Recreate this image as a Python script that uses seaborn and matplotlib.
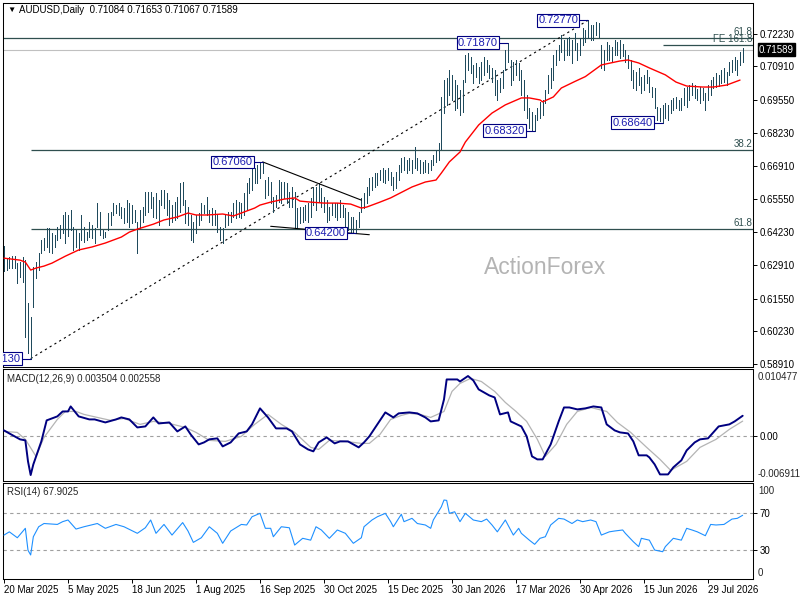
import numpy as np
import matplotlib
matplotlib.use("Agg")
import matplotlib.pyplot as plt
import matplotlib.transforms as mtrans
import seaborn as sns

# ---------------- data ----------------
symbol = "AUDUSD,Daily"
last_ohlc = [0.71084, 0.71653, 0.71067, 0.71589]
macd_last = [0.003504, 0.002558]
rsi_last = 67.9025

date_labels = ["20 Mar 2025", "5 May 2025", "18 Jun 2025", "1 Aug 2025", "16 Sep 2025",
               "30 Oct 2025", "15 Dec 2025", "30 Jan 2026", "17 Mar 2026", "30 Apr 2026",
               "15 Jun 2026", "29 Jul 2026"]
date_bars = [0, 24, 48, 72, 96, 120, 144, 168, 192, 216, 240, 264]

price_ticks = [0.72230, 0.70910, 0.69550, 0.68230, 0.66910, 0.65550,
               0.64230, 0.62910, 0.61550, 0.60230, 0.58910]

# daily highs / lows in pips (x 0.0001), one value per bar
high_pips = [
    6366, 6318, 6322, 6326, 6326, 6298, 6302, 6322, 6310, 6137, 6081, 6282, 6302, 6338, 6391,
    6399, 6439, 6439, 6419, 6411, 6443, 6451, 6492, 6504, 6492, 6512, 6443, 6431, 6419, 6492,
    6443, 6423, 6463, 6451, 6439, 6540, 6504, 6431, 6423, 6500, 6504, 6540, 6532, 6540, 6524,
    6520, 6552, 6540, 6532, 6512, 6463, 6512, 6524, 6585, 6585, 6585, 6565, 6581, 6553, 6593,
    6593, 6581, 6553, 6532, 6544, 6565, 6621, 6625, 6553, 6524, 6492, 6463, 6492, 6500, 6540,
    6532, 6565, 6512, 6520, 6512, 6492, 6443, 6439, 6492, 6504, 6504, 6540, 6553, 6544, 6540,
    6581, 6621, 6641, 6690, 6682, 6694, 6702, 6706, 6633, 6645, 6625, 6565, 6573, 6633, 6625,
    6625, 6621, 6585, 6605, 6585, 6520, 6524, 6524, 6532, 6540, 6561, 6605, 6605, 6621, 6601,
    6565, 6553, 6524, 6540, 6540, 6540, 6553, 6532, 6520, 6504, 6484, 6484, 6472, 6504, 6561,
    6581, 6605, 6641, 6645, 6661, 6661, 6674, 6682, 6674, 6682, 6665, 6645, 6665, 6694, 6722,
    6726, 6714, 6722, 6714, 6766, 6722, 6714, 6706, 6714, 6702, 6714, 6734, 6754, 6782, 6968,
    7036, 7044, 7077, 7057, 7036, 7016, 6996, 7036, 7137, 7145, 7129, 7097, 7105, 7089, 7109,
    7129, 7117, 7097, 7085, 7077, 7036, 7044, 7077, 7157, 7187, 7117, 7109, 7117, 7105, 7077,
    7036, 6976, 6923, 6907, 6895, 6923, 6948, 6956, 6996, 7057, 7085, 7137, 7157, 7177, 7218,
    7198, 7206, 7210, 7198, 7226, 7185, 7206, 7246, 7238, 7277, 7258, 7258, 7270, 7266, 7177,
    7157, 7190, 7177, 7169, 7198, 7190, 7198, 7182, 7157, 7137, 7117, 7077, 7069, 7085, 7048,
    7057, 7077, 7048, 7008, 7004, 6927, 6923, 6936, 6944, 6936, 6956, 6964, 6968, 6956, 6964,
    7004, 7008, 7016, 7024, 7016, 7000, 7008, 7004, 6984, 7016, 7036, 7048, 7065, 7057, 7077,
    7085, 7069, 7109, 7117, 7129, 7117, 7149, 7165,
]
low_pips = [
    6265, 6270, 6278, 6278, 6278, 6217, 6241, 6222, 6000, 5935, 5913, 6121, 6238, 6270, 6338,
    6351, 6363, 6343, 6338, 6363, 6391, 6399, 6419, 6379, 6407, 6431, 6351, 6363, 6351, 6391,
    6383, 6391, 6403, 6399, 6379, 6443, 6411, 6399, 6403, 6431, 6451, 6492, 6500, 6492, 6480,
    6459, 6463, 6443, 6459, 6463, 6339, 6439, 6463, 6492, 6504, 6520, 6484, 6480, 6451, 6532,
    6520, 6492, 6451, 6463, 6472, 6480, 6504, 6532, 6459, 6451, 6391, 6383, 6419, 6451, 6472,
    6500, 6492, 6463, 6451, 6451, 6423, 6391, 6379, 6443, 6451, 6463, 6484, 6480, 6484, 6480,
    6492, 6512, 6581, 6593, 6621, 6621, 6641, 6661, 6561, 6573, 6540, 6504, 6524, 6544, 6540,
    6561, 6540, 6524, 6524, 6439, 6439, 6459, 6463, 6472, 6463, 6484, 6532, 6512, 6545, 6524,
    6504, 6463, 6472, 6492, 6484, 6472, 6484, 6484, 6443, 6431, 6423, 6423, 6420, 6443, 6504,
    6520, 6540, 6573, 6593, 6605, 6613, 6633, 6625, 6621, 6633, 6613, 6593, 6601, 6633, 6665,
    6674, 6661, 6674, 6661, 6682, 6674, 6661, 6661, 6665, 6661, 6674, 6694, 6706, 6714, 6760,
    6903, 6936, 6976, 6956, 6915, 6923, 6895, 6907, 7030, 7077, 7065, 7024, 7048, 7024, 7036,
    7057, 7069, 7044, 7028, 6976, 6956, 6988, 7004, 7077, 7109, 7016, 7036, 7057, 7036, 6976,
    6915, 6883, 6843, 6835, 6832, 6875, 6883, 6895, 6944, 6984, 7004, 7036, 7097, 7117, 7149,
    7117, 7137, 7137, 7105, 7157, 7117, 7137, 7177, 7190, 7206, 7198, 7198, 7218, 7210, 7085,
    7077, 7117, 7117, 7109, 7137, 7137, 7125, 7133, 7109, 7085, 7036, 7004, 6996, 7016, 6984,
    6996, 7024, 6988, 6968, 6923, 6875, 6871, 6864, 6883, 6875, 6903, 6915, 6923, 6915, 6915,
    6936, 6927, 6956, 6976, 6964, 6956, 6944, 6956, 6915, 6956, 6976, 7004, 7008, 7012, 7024,
    7028, 7016, 7057, 7069, 7077, 7057, 7097, 7107,
]

# moving average (red), sampled along the chart
ma_bars = [0, 6, 8, 10, 12, 15, 18, 23, 28, 33, 38, 44, 47, 50, 56, 60, 65, 69, 72, 76,
           82, 86, 89, 94, 96, 100, 105, 109, 111, 115, 120, 125, 130, 134, 136, 141, 145,
           153, 158, 162, 164, 167, 171, 173, 178, 183, 188, 194, 197, 201, 202, 206, 209,
           214, 218, 224, 231, 234, 238, 242, 248, 252, 256, 262, 266, 271, 276]
ma_pips = [6318, 6310, 6302, 6270, 6278, 6286, 6298, 6326, 6351, 6363, 6379, 6403, 6423,
           6435, 6455, 6472, 6484, 6500, 6492, 6492, 6496, 6488, 6500, 6520, 6532, 6544,
           6556, 6561, 6548, 6544, 6540, 6540, 6536, 6520, 6524, 6544, 6561, 6605, 6625,
           6633, 6661, 6706, 6746, 6786, 6855, 6903, 6936, 6964, 6964, 6956, 6948, 6968,
           7004, 7030, 7050, 7097, 7113, 7117, 7105, 7085, 7057, 7028, 7012, 7008, 7008,
           7016, 7036]

# MACD main line and signal (x 1e-5)
macd_bars = [0, 2, 6, 8, 9, 10, 11, 14, 16, 20, 22, 24, 25, 28, 32, 34, 38, 42, 44, 47,
             50, 53, 56, 58, 62, 65, 68, 70, 73, 75, 77, 80, 82, 85, 88, 91, 93, 96, 99, 102,
             106, 108, 111, 114, 116, 118, 121, 124, 126, 129, 133, 135, 137, 140, 143, 146,
             148, 152, 155, 158, 160, 163, 165, 166, 170, 171, 174, 176, 178, 182, 184, 186,
             189, 190, 194, 196, 198, 200, 202, 205, 208, 210, 212, 215, 218, 221, 224, 226,
             229, 231, 234, 236, 238, 241, 242, 244, 246, 249, 251, 254, 256, 259, 261, 264,
             266, 268, 272, 274, 277]
macd_e5 = [93, 40, -64, -82, -451, -691, -504, -100, 269, 339, 426, 426, 514, 339, 286, 286,
           233, 286, 321, 286, 145, 163, 321, 215, 233, 75, 163, 23, -153, -118, -64, -47,
           -188, -118, 40, 75, 199, 480, 321, 128, 128, 75, -153, -241, -275, -118, -30,
           -135, -100, -100, -205, -118, -12, 199, 409, 321, 392, 409, 392, 321, 251, 269,
           637, 988, 988, 952, 1048, 970, 813, 707, 672, 374, 409, 251, 163, -12, -363, -416,
           -416, -153, 251, 496, 496, 462, 480, 514, 496, 199, 93, 58, 40, -100, -345, -345,
           -381, -504, -680, -680, -556, -433, -258, -118, -64, -47, 58, 163, 199, 251, 350]
sig_bars = [0, 5, 8, 12, 15, 20, 23, 27, 30, 35, 40, 45, 51, 56, 62, 68, 72, 77, 83, 89,
            94, 99, 104, 109, 115, 118, 122, 128, 134, 137, 141, 145, 149, 152, 156, 160,
            165, 168, 171, 175, 179, 184, 188, 192, 196, 200, 203, 207, 211, 215, 220, 226,
            230, 235, 241, 246, 250, 256, 261, 267, 272, 277]
sig_e5 = [75, 58, -64, -363, -30, 286, 426, 426, 374, 321, 269, 303, 199, 251, 215, 145, 58,
          -82, -100, -12, 199, 374, 199, 58, -205, -241, -82, -100, -135, -135, 23, 286, 356,
          392, 374, 321, 426, 778, 918, 1006, 952, 778, 584, 426, 251, -64, -363, -153, 199,
          426, 496, 426, 233, 58, -205, -416, -609, -451, -205, -64, 111, 256]

# RSI(14)
rsi_bars = [0, 2, 5, 8, 9, 10, 11, 13, 15, 20, 22, 24, 27, 30, 35, 38, 42, 45, 50, 53,
            55, 57, 60, 63, 67, 69, 71, 74, 77, 80, 82, 85, 89, 91, 93, 96, 98, 100, 101, 104,
            107, 109, 112, 115, 117, 119, 122, 125, 128, 131, 134, 135, 138, 140, 143, 145,
            146, 149, 150, 153, 155, 158, 160, 161, 164, 165, 166, 167, 169, 171, 173, 176,
            179, 181, 183, 185, 188, 191, 193, 194, 197, 199, 201, 203, 205, 208, 210, 213,
            215, 217, 220, 222, 224, 227, 229, 232, 233, 236, 238, 239, 242, 244, 247, 248,
            251, 254, 256, 258, 260, 263, 265, 267, 270, 273, 275, 277]
rsi_vals = [46.5, 50, 43.6, 53.8, 30, 25, 44.7, 55.5, 59, 58, 61, 62.8, 53, 55.5, 59, 53.8,
            58, 55.5, 48.4, 54.4, 62.8, 48.4, 58, 46.5, 60, 50.9, 38.6, 43.6, 55.5, 48.4,
            37.6, 50.9, 58, 57.4, 66.3, 70, 53.8, 53.8, 44.7, 55.5, 54.4, 35.7, 43, 41, 55.5,
            52, 43, 52, 48.4, 37.6, 43.6, 55.5, 62.8, 66.3, 70, 61, 55.5, 69, 61, 64.6, 59,
            57.4, 53.8, 62.8, 77, 84.4, 84, 70, 71.7, 61, 70, 62.8, 61, 63.8, 57.4, 50, 62.8,
            46.5, 53.8, 48.4, 41, 36.5, 43, 44.7, 57.4, 64.6, 63.8, 59, 62.8, 61, 62.8, 61,
            46.5, 50, 50.9, 52, 48.4, 39.3, 34, 43, 41, 30.3, 28.5, 34, 43, 41, 53.8, 52, 50,
            45.8, 58, 57.4, 58, 63.8, 64.6, 67.9]

# annotations
swing_bars = [10, 97, 132, 189, 199, 219, 247]
swing_kind = ["L", "H", "L", "H", "L", "H", "L"]
extra_levels = [0.72040, 0.71790]
extra_names = ["61.8", "FE 161.8"]
extra_start = [-0.375, 247]
retr_ratios = [0.382, 0.618]
trend_x = [[97, 134], [100, 137]]
trend_y = [[0.67060, 0.65520], [0.64464, 0.64125]]

# ---------------- drawing ----------------
sns.set_style("white")
plt.rcParams["font.family"] = ["Liberation Sans", "DejaVu Sans"]

BAR = "#1f4a5c"
FIB = "#2f4f4f"
NAVY = "#000080"
LBL = "#1c1cb0"

W, HH = 800, 600
fig = plt.figure(figsize=(8, 6), dpi=100, facecolor="white")


def rect(l, t, r, b):
    return [l / W, 1 - b / HH, (r - l) / W, (b - t) / HH]


def ftext(px, py, s, **kw):
    return fig.text(px / W, 1 - py / HH, s, **kw)


ax1 = fig.add_axes(rect(3, 3, 753, 367))
ax2 = fig.add_axes(rect(3, 369, 753, 481))
ax3 = fig.add_axes(rect(3, 483, 753, 579))
XL = (-0.375, 280.875)

hi = np.array(high_pips) / 1e4
lo = np.array(low_pips) / 1e4
bars = np.arange(len(hi))

# --- main price panel
ax1.axhline(last_ohlc[3], color="#c0c0c0", lw=0.8, zorder=1)
swing_low = lo[swing_bars[0]]
swing_high = hi[swing_bars[5]]
for r in retr_ratios:
    lev = swing_high - r * (swing_high - swing_low)
    ax1.hlines(lev, swing_bars[0], XL[1], color=FIB, lw=0.9, zorder=2)
    ax1.text(XL[1], lev, f"{r * 100:.1f}", ha="right", va="bottom", fontsize=7, color=FIB,
             transform=mtrans.offset_copy(ax1.transData, fig=fig, x=-1, y=1, units="dots"))
for lev, name, st in zip(extra_levels, extra_names, extra_start):
    ax1.hlines(lev, st, XL[1], color=FIB, lw=0.9, zorder=2)
    ax1.text(XL[1], lev, name, ha="right", va="bottom", fontsize=7, color=FIB,
             transform=mtrans.offset_copy(ax1.transData, fig=fig, x=-1, y=1, units="dots"))

ax1.plot([swing_bars[0], swing_bars[5]], [swing_low, swing_high], color="black", lw=0.8,
         ls=(0, (2, 3)), zorder=2)
for tx, ty in zip(trend_x, trend_y):
    ax1.plot(tx, ty, color="black", lw=0.8, zorder=5)

ax1.vlines(bars, lo, hi, color=BAR, lw=0.5, antialiased=False, zorder=3)
sns.lineplot(x=ma_bars, y=np.array(ma_pips) / 1e4, ax=ax1, color="#ff0000", lw=1.0,
             sort=False, zorder=4)

for b, k in zip(swing_bars, swing_kind):
    p = hi[b] if k == "H" else lo[b]
    ax1.hlines(p, b - 3.75, b, color=NAVY, lw=0.8, zorder=6)
    ax1.text(b, p, f"{p:.5f}", ha="right", va="center", fontsize=8, color=LBL, zorder=7,
             clip_on=True,
             bbox=dict(boxstyle="square,pad=0.12", fc="white", ec=NAVY, lw=0.8),
             transform=mtrans.offset_copy(ax1.transData, fig=fig, x=-10, y=0, units="dots"))

ax1.set_ylim(0.58791, 0.73468)
ax1.set_yticks(price_ticks)
ax1.set_yticklabels([f"{v:.5f}" for v in price_ticks])
ax1.text(1.0, last_ohlc[3], f"{last_ohlc[3]:.5f}", color="white", fontsize=7, ha="left",
         va="center", clip_on=False, zorder=10,
         bbox=dict(boxstyle="square,pad=0.15", fc="black", ec="black"),
         transform=mtrans.offset_copy(ax1.get_yaxis_transform(), fig=fig, x=6, y=0,
                                      units="dots"))

ftext(545, 268, "ActionForex", ha="center", va="center", fontsize=16.5, color="#b4b4b4")
ftext(7, 10, "\u25bc", ha="left", va="center", fontsize=6, color="black")
ftext(19, 10, f"{symbol}  " + " ".join(f"{v:.5f}" for v in last_ohlc), ha="left",
      va="center", fontsize=7, color="black")

# --- MACD panel
ax2.axhline(0, color="#a0a0a0", lw=0.8, ls=(0, (3, 3)), zorder=1)
sns.lineplot(x=sig_bars, y=np.array(sig_e5) / 1e5, ax=ax2, color="#b4b4b4", lw=0.9,
             sort=False, zorder=2)
sns.lineplot(x=macd_bars, y=np.array(macd_e5) / 1e5, ax=ax2, color=NAVY, lw=1.4,
             sort=False, zorder=3)
ax2.set_ylim(-0.007956, 0.011714)
ax2.set_yticks([0.0])
ax2.set_yticklabels(["0.00"])
ftext(758, 377, "0.010477", ha="left", va="center", fontsize=7)
ftext(758, 474, "-0.006911", ha="left", va="center", fontsize=7)
ftext(7, 379, f"MACD(12,26,9) {macd_last[0]:.6f} {macd_last[1]:.6f}", ha="left",
      va="center", fontsize=7)

# --- RSI panel
ax3.axhline(70, color="#a0a0a0", lw=0.8, ls=(0, (3, 3)), zorder=1)
ax3.axhline(30, color="#a0a0a0", lw=0.8, ls=(0, (3, 3)), zorder=1)
sns.lineplot(x=rsi_bars, y=rsi_vals, ax=ax3, color="#1e90ff", lw=0.8, sort=False, zorder=3)
ax3.set_ylim(-1.0, 102.8)
ax3.set_yticks([70, 30])
ax3.set_yticklabels(["70", "30"])
ftext(758, 491, "100", ha="left", va="center", fontsize=7)
ftext(758, 573, "0", ha="left", va="center", fontsize=7)
ftext(7, 492, f"RSI(14) {rsi_last:.4f}", ha="left", va="center", fontsize=7)

for ax in (ax1, ax2, ax3):
    ax.set_xlim(*XL)
    ax.set_xlabel("")
    ax.set_ylabel("")
    ax.set_facecolor("white")
    for s in ax.spines.values():
        s.set_visible(True)
        s.set_color("black")
        s.set_linewidth(0.75)
    ax.yaxis.tick_right()
    ax.tick_params(axis="y", right=True, left=False, length=3, width=0.7, pad=2,
                   labelsize=7, colors="black", direction="out")
    ax.tick_params(axis="x", bottom=False, labelbottom=False)
    ax.grid(False)

ax3.set_xticks(date_bars)
ax3.set_xticklabels(date_labels, ha="left")
ax3.tick_params(axis="x", bottom=True, labelbottom=True, length=3, width=0.7, pad=1.5,
                labelsize=7, colors="black", direction="out")

fig.savefig("out.png", dpi=100, facecolor="white")
